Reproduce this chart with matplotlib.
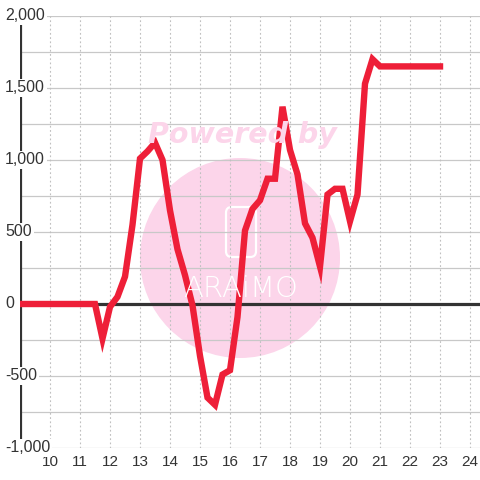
import matplotlib
matplotlib.use("Agg")
import matplotlib.pyplot as plt
from matplotlib.patches import Circle, FancyBboxPatch

plt.rcParams['font.family'] = ['Liberation Sans', 'DejaVu Sans']

# time of day (hours) and value
hours = [9.0, 9.25, 9.5, 9.75, 10.0, 10.25, 10.5, 10.75, 11.0, 11.25, 11.5,
         11.75, 12.0, 12.25, 12.5, 12.75, 13.0, 13.25, 13.5, 13.75,
         14.0, 14.25, 14.5, 14.75, 15.0, 15.25, 15.5, 15.75,
         16.0, 16.25, 16.5, 16.75, 17.0, 17.25, 17.5, 17.75,
         18.0, 18.25, 18.5, 18.75, 19.0, 19.25, 19.5, 19.75,
         20.0, 20.25, 20.5, 20.75, 21.0, 21.25, 21.5, 21.75,
         22.0, 22.25, 22.5, 22.75, 23.0]
values = [0, 0, 0, 0, 0, 0, 0, 0, 0, 0, 0,
          -240, -20, 50, 190, 550, 1010, 1060, 1120, 1000,
          650, 380, 200, -10, -360, -650, -700, -490,
          -460, -90, 510, 660, 720, 870, 870, 1370,
          1070, 900, 560, 460, 260, 760, 800, 800,
          575, 760, 1530, 1700, 1650, 1650, 1650, 1650,
          1650, 1650, 1650, 1650, 1650]

x_ticks = list(range(10, 25))
y_grid = [-1000, -750, -500, -250, 250, 500, 750, 1000, 1250, 1500, 1750, 2000]
y_labels = [2000, 1500, 1000, 500, 0, -500, -1000]

fig = plt.figure(figsize=(4.8, 4.8), dpi=100)
ax = fig.add_axes([20 / 480, 32 / 480, 460 / 480, 432 / 480])
ax.set_xlim(9, 9 + 460 / 30)
ax.set_ylim(-1000, 2000)
for s in ax.spines.values():
    s.set_visible(False)

# watermark
ax.add_patch(Circle((0.5, 1 - 258 / 480), 100 / 480, transform=fig.transFigure,
                    facecolor='#fcd5ea', edgecolor='none', zorder=0.5))
ax.add_patch(FancyBboxPatch((226 / 480, 1 - 257 / 480), 30 / 480, 50 / 480,
                            boxstyle='round,pad=0,rounding_size=0.012',
                            transform=fig.transFigure, facecolor='none',
                            edgecolor='white', linewidth=1.6, zorder=0.6))
fig.text(241 / 480, 1 - 289 / 480, 'ARAiMO', color='white', fontsize=21,
         family='DejaVu Sans', weight='light', ha='center', va='center', zorder=0.6)
fig.text(242 / 480, 1 - 135 / 480, 'Powered by', color='#fcd5ea', fontsize=20.5,
         family='DejaVu Sans', weight='heavy', style='italic',
         ha='center', va='center', zorder=0.6)

# grid
for y in y_grid:
    ax.axhline(y, color='#c8c8c8', linewidth=0.9, zorder=1)
for x in x_ticks:
    ax.axvline(x, color='#c0c0c0', linewidth=0.8, dashes=(1.6, 2.2), zorder=1)
ax.axhline(0, color='#333333', linewidth=2.3, zorder=2)
ax.axvline(9, color='#333333', linewidth=2.3, zorder=2)

ax.plot(hours, values, color='#ee1f38', linewidth=4.6,
        solid_joinstyle='miter', zorder=3)

ax.set_yticks([])
ax.set_xticks(x_ticks)
ax.set_xticklabels([str(x) for x in x_ticks], fontsize=11, color='#333333')
ax.tick_params(axis='x', length=0, pad=5)

for y in y_labels:
    ax.text(-15 / 460, y, f'{y:,}', transform=ax.get_yaxis_transform(),
            ha='left', va='center', fontsize=11.5, color='#333333', zorder=5,
            clip_on=False,
            bbox=dict(boxstyle='square,pad=0.12', facecolor='white', edgecolor='none'))

fig.savefig('out.png', dpi=100)
